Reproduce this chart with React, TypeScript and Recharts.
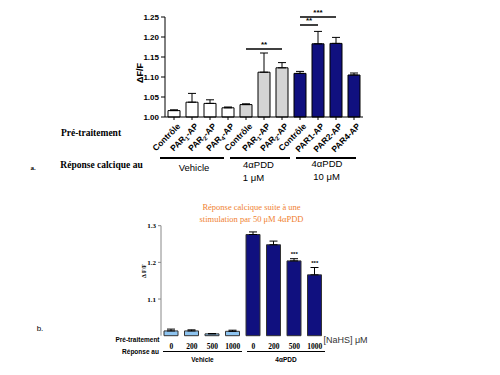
import React from "react";
import {
  BarChart,
  Bar,
  XAxis,
  YAxis,
  Cell,
  ErrorBar,
  ReferenceLine,
  ReferenceDot,
} from "recharts";

// panel a
const labelsA = [
  "Contrôle",
  "PAR₁-AP",
  "PAR₂-AP",
  "PAR₄-AP",
  "Contrôle",
  "PAR₁-AP",
  "PAR₂-AP",
  "Contrôle",
  "PAR1-AP",
  "PAR2-AP",
  "PAR4-AP",
];
const groupsA = ["veh", "veh", "veh", "veh", "low", "low", "low", "high", "high", "high", "high"];
const meansA = [1.016, 1.037, 1.034, 1.023, 1.031, 1.112, 1.123, 1.109, 1.183, 1.184, 1.105];
const semsA = [0.002, 0.022, 0.009, 0.002, 0.002, 0.048, 0.013, 0.005, 0.031, 0.015, 0.005];
const ticksA = [1.0, 1.05, 1.1, 1.15, 1.2, 1.25];
const sigA = [
  { from: 4, to: 6, y: 1.17, text: "**" },
  { from: 7, to: 8, y: 1.23, text: "**" },
  { from: 7, to: 9, y: 1.25, text: "***" },
];

// panel b
const dosesB = ["0", "200", "500", "1000", "0", "200", "500", "1000"];
const groupsB = ["veh", "veh", "veh", "veh", "pdd", "pdd", "pdd", "pdd"];
const meansB = [1.013, 1.013, 1.005, 1.012, 1.276, 1.248, 1.204, 1.166];
const semsB = [0.005, 0.003, 0.001, 0.003, 0.007, 0.01, 0.006, 0.02];
const starsB = ["", "", "", "", "", "", "***", "***"];
const ticksB = [1.1, 1.2, 1.3];

const fillA: Record<string, string> = { veh: "#ffffff", low: "#d4d4d4", high: "#10107f" };
const fillB: Record<string, string> = { veh: "#8ec4f0", pdd: "#10107f" };

const dataA = labelsA.map((label, i) => ({
  id: `a${i}`,
  label,
  group: groupsA[i],
  mean: meansA[i],
  err: [0, semsA[i]],
}));

const dataB = dosesB.map((dose, i) => ({
  id: `b${i}`,
  dose,
  group: groupsB[i],
  mean: meansB[i],
  err: [0, semsB[i]],
  star: starsB[i],
}));

const sans = "'Liberation Sans', Arial, sans-serif";
const serif = "'Liberation Serif', 'Times New Roman', serif";

const subs: Record<string, string> = { "₁": "1", "₂": "2", "₄": "4" };

// split "PAR₁-AP" into normal / subscript pieces
const renderLabel = (label: string) => {
  const m = label.match(/^(.*?)([₁₂₄])(.*)$/);
  if (!m) return label;
  return (
    <>
      {m[1]}
      <tspan dy={2} fontSize={6}>
        {subs[m[2]]}
      </tspan>
      <tspan dy={-2}>{m[3]}</tspan>
    </>
  );
};

const RotTick = (props: any) => {
  const { x, y, payload } = props;
  const i = Number(String(payload.value).slice(1));
  return (
    <g transform={`translate(${x + 4},${y + 2})`}>
      <text
        textAnchor="end"
        transform="rotate(-45)"
        fontSize={8.5}
        fontWeight="bold"
        fontFamily={sans}
        fill="#000"
        dy={4}
      >
        {renderLabel(labelsA[i])}
      </text>
    </g>
  );
};

type TProps = {
  x: number;
  y: number;
  children: React.ReactNode;
  size?: number;
  weight?: string;
  family?: string;
  color?: string;
  rotate?: number;
};

const T = ({ x, y, children, size = 9, weight = "normal", family = sans, color = "#000", rotate = 0 }: TProps) => (
  <div
    style={{
      position: "absolute",
      left: x,
      top: y,
      transform: `translate(-50%,-50%) rotate(${rotate}deg)`,
      fontSize: size,
      fontWeight: weight as any,
      fontFamily: family,
      color,
      whiteSpace: "nowrap",
      lineHeight: 1,
    }}
  >
    {children}
  </div>
);

const HLine = ({ x1, x2, y, w = 1.5 }: { x1: number; x2: number; y: number; w?: number }) => (
  <div style={{ position: "absolute", left: x1, top: y, width: x2 - x1, height: w, background: "#000" }} />
);

const App = () => {
  return (
    <div style={{ position: "absolute", left: 0, top: 0, width: 500, height: 375, background: "#fff" }}>
      <div style={{ position: "absolute", left: 0, top: 0 }}>
        <BarChart
          width={500}
          height={200}
          data={dataA}
          margin={{ top: 17, right: 137, left: 135, bottom: 33 }}
          barSize={12}
        >
          <XAxis
            dataKey="id"
            type="category"
            height={50}
            interval={0}
            tick={<RotTick />}
            tickSize={3}
            stroke="#000"
          />
          <YAxis
            type="number"
            domain={[1, 1.25]}
            ticks={ticksA}
            width={30}
            tickSize={4}
            stroke="#000"
            tickFormatter={(v: number) => v.toFixed(2)}
            tick={{ fontSize: 8, fontWeight: "bold", fontFamily: sans, fill: "#000" }}
          />
          <Bar dataKey="mean" stroke="#000" strokeWidth={1} isAnimationActive={false}>
            {dataA.map((d) => (
              <Cell key={d.id} fill={fillA[d.group]} />
            ))}
            <ErrorBar dataKey="err" width={4} stroke="#000" strokeWidth={1} direction="y" />
          </Bar>
          {sigA.map((s, i) => (
            <ReferenceLine
              key={i}
              segment={[
                { x: dataA[s.from].id, y: s.y },
                { x: dataA[s.to].id, y: s.y },
              ]}
              stroke="#000"
              strokeWidth={1.5}
              ifOverflow="visible"
              label={{
                value: s.text,
                position: "top",
                offset: 2,
                fontSize: 8,
                fontWeight: "bold",
                fontFamily: sans,
                fill: "#000",
              }}
            />
          ))}
        </BarChart>
      </div>

      <div style={{ position: "absolute", left: 0, top: 190 }}>
        <BarChart
          width={500}
          height={185}
          data={dataB}
          margin={{ top: 35.7, right: 175, left: 136, bottom: 19.3 }}
          barSize={14}
        >
          <XAxis
            dataKey="id"
            type="category"
            height={20}
            interval={0}
            axisLine={false}
            tickLine={false}
            tickFormatter={(v: string) => dosesB[Number(v.slice(1))]}
            tick={{ fontSize: 7.5, fontWeight: "bold", fontFamily: serif, fill: "#000" }}
          />
          <YAxis
            type="number"
            domain={[1, 1.3]}
            ticks={ticksB}
            width={25}
            tickSize={3}
            stroke="#888"
            tick={{ fontSize: 7, fontWeight: "bold", fontFamily: serif, fill: "#000" }}
          />
          <Bar dataKey="mean" stroke="#333" strokeWidth={1} isAnimationActive={false}>
            {dataB.map((d) => (
              <Cell key={d.id} fill={fillB[d.group]} />
            ))}
            <ErrorBar dataKey="err" width={4} stroke="#000" strokeWidth={1} direction="y" />
          </Bar>
          {dataB
            .filter((d) => d.star)
            .map((d) => (
              <ReferenceDot
                key={d.id}
                x={d.id}
                y={d.mean + d.err[1] + 0.012}
                r={0}
                fill="none"
                stroke="none"
                ifOverflow="visible"
                label={{
                  value: d.star,
                  position: "center",
                  fontSize: 6,
                  fontWeight: "bold",
                  fontFamily: sans,
                  fill: "#000",
                }}
              />
            ))}
        </BarChart>
      </div>

      {/* panel a annotations */}
      <T x={140} y={73} size={9} weight="bold" rotate={-90}>ΔF/F</T>
      <T x={91} y={134} size={9.5} weight="bold" family={serif}>Pré-traitement</T>
      <T x={101.5} y={166} size={9.5} weight="bold" family={serif}>Réponse calcique au</T>
      <T x={33} y={168} size={7} weight="bold" family={serif}>a.</T>
      <HLine x1={160} x2={224} y={157} />
      <HLine x1={230} x2={290} y={157} />
      <HLine x1={296} x2={356} y={157} />
      <T x={194} y={168} size={9.5}>Vehicle</T>
      <T x={258.5} y={165} size={9.5}>4αPDD</T>
      <T x={253.5} y={178} size={9.5}>1 μM</T>
      <T x={327} y={164} size={9.5}>4αPDD</T>
      <T x={326.5} y={177} size={9.5}>10 μM</T>

      {/* panel b annotations */}
      <T x={251.5} y={207} size={8.5} family={serif} color="#f07f30">Réponse calcique suite à une</T>
      <T x={251.5} y={218.5} size={8.5} family={serif} color="#f07f30">stimulation par 50 μM 4αPDD</T>
      <T x={144} y={271} size={6} weight="bold" family={serif} rotate={-90}>Δ F/F</T>
      <T x={40} y={329} size={8} color="#000">b.</T>
      <T x={137.5} y={339.5} size={6.5} weight="bold">Pré-traitement</T>
      <T x={140.5} y={351.5} size={6.5} weight="bold">Réponse au</T>
      <T x={345.5} y={339.5} size={9} color="#333">[NaHS] μM</T>
      <HLine x1={163} x2={242} y={350.5} w={1.2} />
      <HLine x1={247} x2={325} y={350.5} w={1.2} />
      <T x={202.5} y={360} size={6.5} weight="bold">Vehicle</T>
      <T x={286} y={360} size={6.5} weight="bold">4αPDD</T>
    </div>
  );
};

export default App;
